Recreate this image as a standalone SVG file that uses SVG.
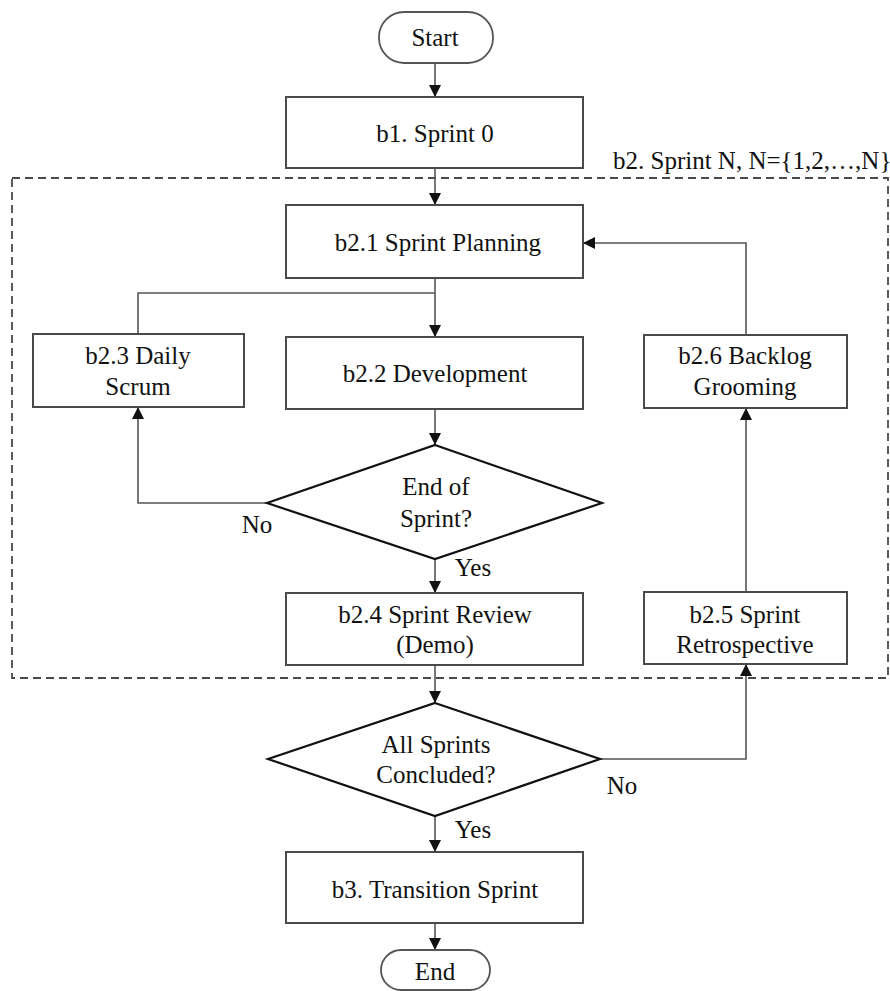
<svg xmlns="http://www.w3.org/2000/svg" width="890" height="991" viewBox="0 0 890 991">
  <style>
    text { font-family: "Liberation Serif", "Times New Roman", serif; font-size: 25px; fill: #111; text-anchor: middle; }
    .box { fill: #fff; stroke: #4a4a4a; stroke-width: 2; }
    .term { fill: #fff; stroke: #555; stroke-width: 1.8; }
    .dec { fill: #fff; stroke: #111; stroke-width: 2.2; }
    .wire { fill: none; stroke: #555; stroke-width: 1.6; }
    .frame { fill: none; stroke: #4a4a4a; stroke-width: 1.8; stroke-dasharray: 8 5; }
  </style>
  <defs>
    <marker id="arrow" viewBox="0 0 10 10" refX="10" refY="5" markerWidth="12" markerHeight="13" markerUnits="userSpaceOnUse" orient="auto">
      <path d="M0,0 L10,5 L0,10 Z" fill="#111"/>
    </marker>
  </defs>
  <rect width="890" height="991" fill="#fff"/>

  <!-- sprint frame -->
  <g id="sprint-frame">
    <rect class="frame" x="12" y="178" width="876" height="500"/>
    <text x="613" y="169" style="text-anchor:start">b2. Sprint N, N={1,2,…,N}</text>
  </g>

  <g id="connectors">
    <line class="wire" x1="435" y1="63" x2="435" y2="97" marker-end="url(#arrow)"/>
    <line class="wire" x1="435" y1="168" x2="435" y2="205" marker-end="url(#arrow)"/>
    <line class="wire" x1="435" y1="278" x2="435" y2="337" marker-end="url(#arrow)"/>
    <polyline class="wire" points="435,293 138,293 138,334"/>
    <line class="wire" x1="435" y1="409" x2="435" y2="445" marker-end="url(#arrow)"/>
    <polyline class="wire" points="267,503 138,503 138,407" marker-end="url(#arrow)"/>
    <line class="wire" x1="435" y1="559" x2="435" y2="593" marker-end="url(#arrow)"/>
    <line class="wire" x1="435" y1="665" x2="435" y2="703" marker-end="url(#arrow)"/>
    <polyline class="wire" points="600,759 746,759 746,664" marker-end="url(#arrow)"/>
    <line class="wire" x1="746" y1="592" x2="746" y2="408" marker-end="url(#arrow)"/>
    <polyline class="wire" points="746,335 746,243 583,243" marker-end="url(#arrow)"/>
    <line class="wire" x1="435" y1="816" x2="435" y2="852" marker-end="url(#arrow)"/>
    <line class="wire" x1="435" y1="923" x2="435" y2="950" marker-end="url(#arrow)"/>
    <text x="257" y="533">No</text>
    <text x="473" y="576">Yes</text>
    <text x="622" y="794">No</text>
    <text x="473" y="838">Yes</text>
  </g>

  <g id="start">
    <rect class="term" x="379" y="12" width="114" height="51" rx="25"/>
    <text x="435" y="46">Start</text>
  </g>
  <g id="b1">
    <rect class="box" x="286" y="97" width="297" height="71"/>
    <text x="435" y="142">b1. Sprint 0</text>
  </g>
  <g id="b2-1">
    <rect class="box" x="286" y="205" width="297" height="73"/>
    <text x="438" y="251">b2.1 Sprint Planning</text>
  </g>
  <g id="b2-3">
    <rect class="box" x="33" y="334" width="211" height="73"/>
    <text x="138" y="364">b2.3 Daily</text>
    <text x="138" y="395">Scrum</text>
  </g>
  <g id="b2-2">
    <rect class="box" x="286" y="337" width="297" height="72"/>
    <text x="435" y="382">b2.2 Development</text>
  </g>
  <g id="b2-6">
    <rect class="box" x="644" y="335" width="203" height="73"/>
    <text x="745" y="364">b2.6 Backlog</text>
    <text x="745" y="395">Grooming</text>
  </g>
  <g id="end-of-sprint">
    <polygon class="dec" points="435,445 602,503 435,559 267,503"/>
    <text x="436" y="495">End of</text>
    <text x="436" y="527">Sprint?</text>
  </g>
  <g id="b2-4">
    <rect class="box" x="286" y="593" width="297" height="72"/>
    <text x="435" y="623">b2.4 Sprint Review</text>
    <text x="435" y="653">(Demo)</text>
  </g>
  <g id="b2-5">
    <rect class="box" x="644" y="592" width="203" height="72"/>
    <text x="745" y="623">b2.5 Sprint</text>
    <text x="745" y="653">Retrospective</text>
  </g>
  <g id="all-sprints">
    <polygon class="dec" points="435,703 600,759 435,816 268,759"/>
    <text x="436" y="753">All Sprints</text>
    <text x="436" y="783">Concluded?</text>
  </g>
  <g id="b3">
    <rect class="box" x="286" y="852" width="297" height="71"/>
    <text x="435" y="898">b3. Transition Sprint</text>
  </g>
  <g id="end">
    <rect class="term" x="381" y="950" width="109" height="40" rx="20"/>
    <text x="435" y="980">End</text>
  </g>
</svg>
